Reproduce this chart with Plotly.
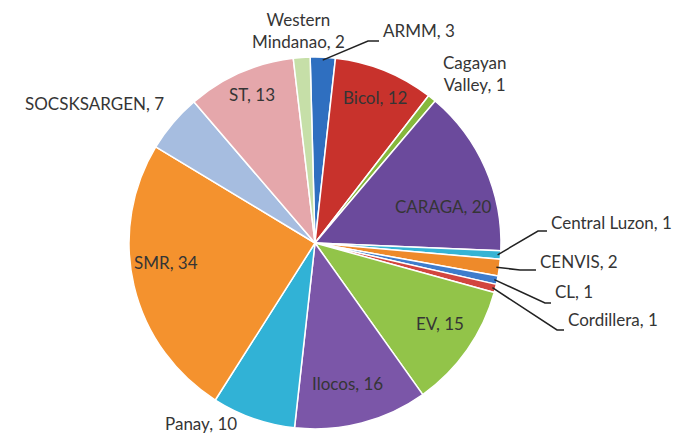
import math
import plotly.graph_objects as go

# ---- data ----
regions = ["ARMM", "Bicol", "Cagayan Valley", "CARAGA", "Central Luzon", "CENVIS",
           "CL", "Cordillera", "EV", "Ilocos", "Panay", "SMR", "SOCSKSARGEN", "ST",
           "Western Mindanao"]
counts = [3, 12, 1, 20, 1, 2, 1, 1, 15, 16, 10, 34, 7, 13, 2]
colors = ["#2f6fc0", "#c8322c", "#86b83c", "#6b4a9c", "#35b4d4", "#ee8a2a",
          "#3e7ccc", "#d2453f", "#92c449", "#7b56a8", "#31b2d6", "#f4922e",
          "#a6bde0", "#e5a7ab", "#c6dfa8"]

# ---- layout geometry (pixels) ----
W, H = 685, 435
CX, CY, R = 307, 235, 186
ROT = -1.5
DY = -8  # vertical correction for annotation text

# label placement: (x, y, xanchor)
label_pos = {
    "ARMM": (373, 31, "left"),
    "Bicol": (367, 97, "center"),
    "Cagayan Valley": (433, 73, "left"),
    "CARAGA": (435, 206, "center"),
    "Central Luzon": (541, 222, "left"),
    "CENVIS": (530, 261, "left"),
    "CL": (545, 291, "left"),
    "Cordillera": (558, 319, "left"),
    "EV": (432, 323, "center"),
    "Ilocos": (339, 383, "center"),
    "Panay": (193, 423, "center"),
    "SMR": (158, 262, "center"),
    "SOCSKSARGEN": (86, 103, "center"),
    "ST": (244, 95, "center"),
    "Western Mindanao": (290, 30, "center"),
}
line_breaks = {"Cagayan Valley": "Cagayan<br>Valley", "Western Mindanao": "Western<br>Mindanao"}
# leader elbows: label-side points (pixels)
leaders = {
    "ARMM": [(371, 33), (360, 33)],
    "Central Luzon": [(539, 223), (530, 223)],
    "CENVIS": [(528, 262), (512, 262)],
    "CL": [(543, 295), (537, 295)],
    "Cordillera": [(556, 322), (549, 322)],
}


def px(x):
    return x / W


def py(y):
    return 1 - y / H


fig = go.Figure(go.Pie(
    labels=regions,
    values=counts,
    sort=False,
    direction="clockwise",
    rotation=ROT,
    marker=dict(colors=colors, line=dict(color="white", width=1.5)),
    textinfo="none",
    hoverinfo="label+value",
    showlegend=False,
    domain=dict(x=[px(CX - R), px(CX + R)], y=[py(CY + R), py(CY - R)]),
))

total = sum(counts)
cum = 0
annotations = []
shapes = []
for name, v in zip(regions, counts):
    mid = (cum + v / 2) / total * 360 + ROT
    cum += v
    lx, ly, anchor = label_pos[name]
    txt = line_breaks.get(name, name) + ", " + str(v)
    annotations.append(dict(
        x=px(lx), y=py(ly + DY), xref="paper", yref="paper", text=txt,
        showarrow=False, xanchor=anchor, yanchor="middle", align="center",
        font=dict(family="Lato, Open Sans, sans-serif", size=17, color="#353535"),
    ))
    if name in leaders:
        ex = CX + (R - 3) * math.sin(math.radians(mid))
        ey = CY - (R - 3) * math.cos(math.radians(mid))
        pts = leaders[name] + [(ex, ey)]
        path = "M " + " L ".join(f"{px(a):.5f},{py(b):.5f}" for a, b in pts)
        shapes.append(dict(type="path", xref="paper", yref="paper", path=path,
                           line=dict(color="#222222", width=1.5)))

fig.update_layout(
    width=W, height=H,
    margin=dict(l=0, r=0, t=0, b=0),
    paper_bgcolor="white", plot_bgcolor="white",
    annotations=annotations,
    shapes=shapes,
)

fig.write_html("out.html")
